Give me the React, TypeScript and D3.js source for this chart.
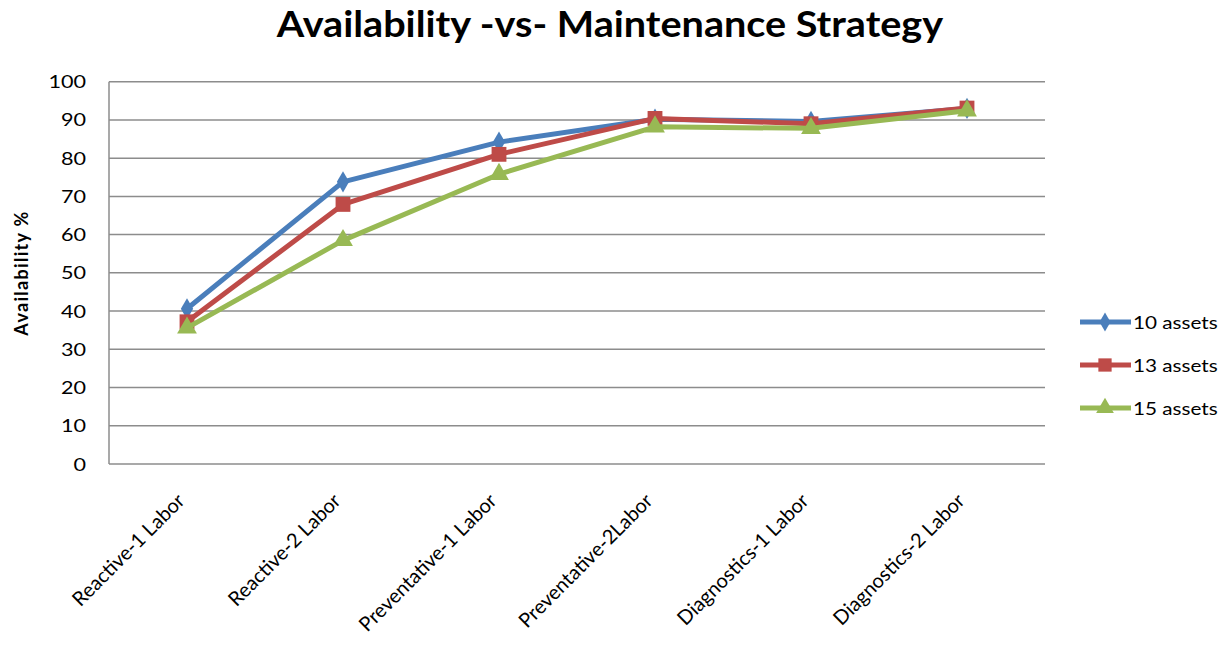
import * as d3 from "d3";

const categories = [
  "Reactive-1 Labor",
  "Reactive-2 Labor",
  "Preventative-1 Labor",
  "Preventative-2Labor",
  "Diagnostics-1 Labor",
  "Diagnostics-2 Labor",
];
const assets10 = [40.6, 73.8, 84.2, 90.2, 89.6, 93.0];
const assets13 = [37.2, 67.9, 81.0, 90.4, 89.0, 93.1];
const assets15 = [35.6, 58.5, 75.8, 88.2, 87.8, 92.4];
const seriesNames = ["10 assets", "13 assets", "15 assets"];
const yTicks = [0, 10, 20, 30, 40, 50, 60, 70, 80, 90, 100];

const W = 1228;
const H = 645;
const font = "Lato, 'Open Sans', sans-serif";
// the reference text is a bit wider than it is tall
const stretch = 1.15;

const App = () => {
  const x = d3.scaleBand().domain(categories).range([109, 1045]);
  const y = d3.scaleLinear().domain([0, 100]).range([464, 81.7]);
  const cx = (c: string) => (x(c) as number) + x.bandwidth() / 2;

  const series = [
    { name: seriesNames[0], values: assets10, color: "#4a7ebb", shape: d3.symbolDiamond, size: 130 },
    { name: seriesNames[1], values: assets13, color: "#be4b48", shape: d3.symbolSquare, size: 220 },
    { name: seriesNames[2], values: assets15, color: "#98b954", shape: d3.symbolTriangle, size: 170 },
  ];

  const line = d3
    .line<number>()
    .x((_, i) => cx(categories[i]))
    .y((v) => y(v));

  return (
    <svg width={W} height={H} style={{ position: "absolute", left: 0, top: 0, background: "#fff" }}>
      <text
        transform={`translate(610,37) scale(${stretch - 0.05},1)`}
        textAnchor="middle"
        fontFamily={font}
        fontWeight="bold"
        fontSize={36}
        fill="#000"
      >
        Availability -vs- Maintenance Strategy
      </text>

      {yTicks.map((t) => (
        <g key={t}>
          <line x1={109} x2={1045} y1={y(t)} y2={y(t)} stroke="#8c8c8c" strokeWidth={1.5} />
          <text
            transform={`translate(86,${y(t) + 6.5}) scale(${stretch + 0.05},1)`}
            textAnchor="end"
            fontFamily={font}
            fontSize={18}
            fill="#000"
          >
            {t}
          </text>
        </g>
      ))}
      <line x1={109} x2={109} y1={81.7} y2={464} stroke="#8c8c8c" strokeWidth={1.5} />

      <text
        transform="translate(28,273) rotate(-90)"
        textAnchor="middle"
        fontFamily={font}
        fontWeight="bold"
        fontSize={18}
        letterSpacing={1.3}
        fill="#000"
      >
        Availability %
      </text>

      {categories.map((c) => (
        <text
          key={c}
          transform={`translate(${cx(c) - 1},502) rotate(-45)`}
          textAnchor="end"
          fontFamily={font}
          fontSize={20}
          fill="#000"
        >
          {c}
        </text>
      ))}

      {series.map((s) => (
        <g key={s.name}>
          <path d={line(s.values) as string} fill="none" stroke={s.color} strokeWidth={5} strokeLinejoin="round" />
          {s.values.map((v, i) => (
            <path
              key={i}
              d={d3.symbol(s.shape, s.size)() as string}
              transform={`translate(${cx(categories[i])},${y(v)})`}
              fill={s.color}
            />
          ))}
        </g>
      ))}

      {series.map((s, i) => {
        const ly = 322 + i * 43;
        return (
          <g key={s.name}>
            <line x1={1080} x2={1131} y1={ly} y2={ly} stroke={s.color} strokeWidth={5} />
            <path d={d3.symbol(s.shape, s.size * 0.8)() as string} transform={`translate(1105,${ly})`} fill={s.color} />
            <text
              transform={`translate(1133,${ly + 6.5}) scale(${stretch},1)`}
              fontFamily={font}
              fontSize={18}
              fill="#000"
            >
              {s.name}
            </text>
          </g>
        );
      })}
    </svg>
  );
};

export default App;
